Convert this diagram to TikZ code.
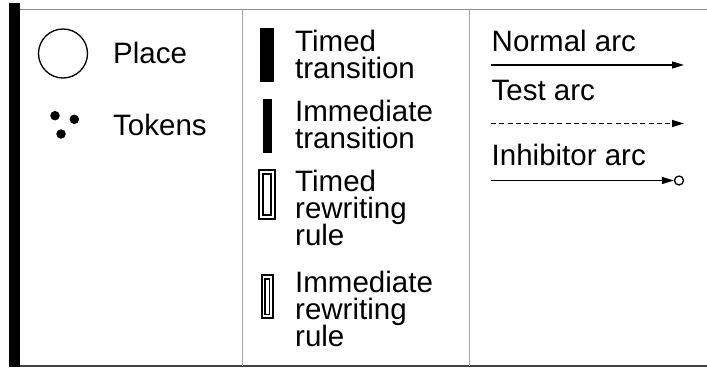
\documentclass[tikz,border=0pt]{standalone}
\usepackage{fontspec}
\setmainfont{Liberation Sans}
\usetikzlibrary{arrows.meta}
\newcommand\mylblfont{\fontsize{29.5}{27}\selectfont\lineskiplimit=-30pt\relax}
\begin{document}
\begin{tikzpicture}[x=1pt,y=-1pt,
  lbl/.style={font=\mylblfont, anchor=base west, inner sep=0pt, align=left},
  tokdot/.style={circle, fill=black, minimum size=9.5pt, inner sep=0pt},
  trans/.style={fill=black, inner sep=0pt},
  rwout/.style={draw=black, line width=2pt, fill=white, inner sep=0pt},
  rwin/.style={draw=black, line width=1.5pt, inner sep=0pt},
  arcline/.style={line width=1.3pt, -{Triangle[length=12pt,width=7pt]}},
  sep/.style={draw=black!35, line width=1pt}]
\useasboundingbox (0,0) rectangle (707,369);
\fill[white] (0,0) rectangle (707,369);
% table frame
\draw[draw=black!45, line width=1.2pt] (20,9.5) -- (707,9.5);
\draw[draw=black!75, line width=1.5pt] (20,366) -- (707,366);
\fill[black] (9,3) rectangle (20,367);
\draw[sep] (242.5,9.5) -- (242.5,366);
\draw[sep] (469,9.5) -- (469,366);
% left column
\node[draw=black, circle, line width=1.3pt, minimum size=49pt, inner sep=0pt] (place) at (63,53.5) {};
\node[lbl] (placelbl) at (113,64) {Place};
\node[tokdot] (tok1) at (55,115.7) {};
\node[tokdot] (tok2) at (74.3,119.3) {};
\node[tokdot] (tok3) at (61,134) {};
\node[lbl] (toklbl) at (113,135) {Tokens};
% middle column (anchor = baseline of last line)
\node[trans, minimum width=14pt, minimum height=54pt] (tt) at (267,55.3) {};
\node[lbl] (ttl) at (295,78) {Timed\\transition};
\node[trans, minimum width=9pt, minimum height=54pt] (it) at (267.5,126) {};
\node[lbl] (itl) at (295,148.5) {Immediate\\transition};
\node[rwout, minimum width=15.4pt, minimum height=49pt] (trw) at (267,194.5) {};
\node[rwin, minimum width=8pt, minimum height=41.2pt] (trwi) at (267,194.6) {};
\node[lbl] (trl) at (295,245.5) {Timed\\rewriting\\rule};
\node[rwout, minimum width=11pt, minimum height=43.3pt] (irw) at (267.2,296.7) {};
\node[rwin, minimum width=4.2pt, minimum height=35.5pt] (irwi) at (267.2,296.5) {};
\node[lbl] (irl) at (295,346) {Immediate\\rewriting\\rule};
% right column
\node[lbl] (nal) at (491.5,52) {Normal arc};
\coordinate (na1) at (491,65);
\coordinate (na2) at (684,65);
\draw[arcline] (na1) -- (na2);
\node[lbl] (tal) at (491.5,100) {Test arc};
\coordinate (ta1) at (491,123.5);
\coordinate (ta2) at (684,123.5);
\draw[arcline, dash pattern=on 5pt off 3.3pt] (ta1) -- (ta2);
\node[lbl] (ial) at (491.5,165) {Inhibitor arc};
\coordinate (ia1) at (491,180.5);
\node[draw=black, circle, line width=1.3pt, minimum size=9pt, inner sep=0pt, fill=white] (inh) at (679,180.5) {};
\draw[arcline] (ia1) -- (inh.west);
\end{tikzpicture}
\end{document}
